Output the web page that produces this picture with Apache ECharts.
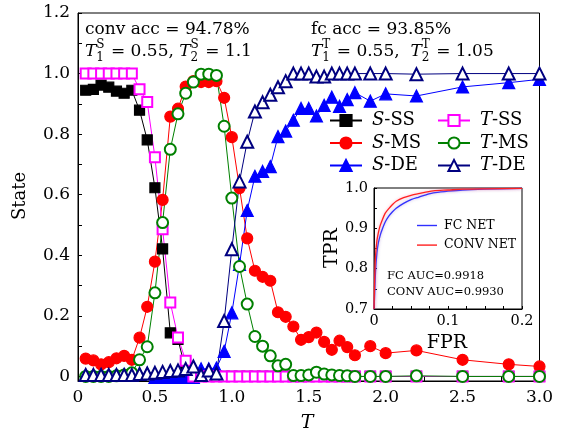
<!DOCTYPE html>
<html><head><meta charset="utf-8">
<script src="https://cdn.jsdelivr.net/npm/echarts@6/dist/echarts.min.js"></script>
<style>html,body{margin:0;padding:0;background:#fff}#c{width:561px;height:436px}</style>
</head><body><div id="c"></div>
<script>
// ---------- data ----------
const T = [0.05,0.1,0.15,0.2,0.25,0.3,0.35,0.4,0.45,0.5,0.55,0.6,0.65,0.7,0.75,0.8,0.85,0.9,0.95,1.0,1.05,1.1,1.15,1.2,1.25,1.3,1.35,1.4,1.45,1.5,1.55,1.6,1.65,1.7,1.75,1.8,1.9,2.0,2.2,2.5,2.8,3.0];
const S_SS = [0.945,0.948,0.962,0.955,0.942,0.935,0.945,0.879,0.781,0.623,0.421,0.144,0.122,0.022,0,0,0,0,0,0,0,0,0,0,0,0,0,0,0,0,0,0,0,0,0,0,0,0,0,0,0,0];
const S_MS = [0.059,0.053,0.04,0.047,0.06,0.068,0.055,0.128,0.23,0.379,0.583,0.858,0.884,0.957,0.975,0.972,0.972,0.975,0.92,0.79,0.622,0.456,0.349,0.329,0.316,0.212,0.197,0.165,0.121,0.13,0.145,0.114,0.088,0.118,0.097,0.07,0.1,0.077,0.086,0.055,0.04,0.033];
const S_DE = [0.005,0.005,0.005,0.005,0.005,0.005,0.005,0.008,0.01,-0.003,-0.003,-0.003,-0.003,-0.003,-0.003,0.025,0.025,0.028,0.083,0.21,0.37,0.548,0.661,0.677,0.693,0.792,0.81,0.846,0.885,0.885,0.86,0.895,0.922,0.892,0.914,0.937,0.909,0.933,0.926,0.956,0.97,0.981];
const T_SS = [1,1,1,1,1,1,1,0.948,0.906,0.724,0.486,0.244,0.129,0.052,0,0,0,0,0,0,0,0,0,0,0,0,0,0,0,0,0,0,0,0,0,0,0,0,0,0,0,0];
const T_MS = [0,0,0,0,0.002,0.005,0.012,0.055,0.098,0.276,0.508,0.75,0.867,0.935,0.972,0.998,0.998,0.994,0.826,0.589,0.363,0.239,0.132,0.1,0.068,0.035,0.04,0.003,0.003,0.005,0.014,0.008,0.005,0.003,0.002,0,0,0,0.002,0,0,0];
const T_DE = [0.005,0.005,0.005,0.005,0.005,0.005,0.005,0.008,0.01,0.012,0.015,0.018,0.02,0.025,0.033,0.005,0.02,0.01,0.183,0.42,0.644,0.775,0.875,0.905,0.93,0.955,0.975,1.0,1.0,1.0,0.99,0.99,1.0,1.0,1.0,1.0,1.0,1.0,0.998,1.0,1.0,1.0];
const xTickLabels = [0,0.5,1.0,1.5,2.0,2.5,3.0];
const yTickLabels = [0,0.2,0.4,0.6,0.8,1.0,1.2];
const yMinorTicks = [0,0.1,0.2,0.3,0.4,0.5,0.6,0.7,0.8,0.9,1.0,1.1,1.2];
// inset ROC
const rocFPR  = [0,0.001,0.002,0.004,0.006,0.008,0.01,0.015,0.02,0.025,0.03,0.04,0.05,0.06,0.08,0.1,0.12,0.15,0.2];
const rocCONV = [0.70,0.78,0.83,0.87,0.89,0.905,0.915,0.937,0.949,0.959,0.967,0.976,0.982,0.986,0.993,0.995,0.997,0.998,0.999];
const rocFC   = [0.70,0.74,0.79,0.84,0.865,0.88,0.892,0.915,0.93,0.941,0.95,0.962,0.971,0.977,0.988,0.992,0.995,0.997,0.999];
const insetXLabels = [0,0.1,0.2];
const insetYLabels = [0.7,0.8,0.9,1.0];

// ---------- helpers ----------
const FONT = '"DejaVu Serif", serif';
const ctx = document.createElement('canvas').getContext('2d');
function tw(t, size, it){ ctx.font = (it?'italic ':'') + size + 'px ' + FONT; return ctx.measureText(t).width; }
function txt(x, y, t, size, it, extra){
  return Object.assign({type:'text', x:x, y:y, z:20, silent:true,
    style:{text:t, font:(it?'italic ':'')+size+'px '+FONT, fill:'#000', textAlign:'left', textVerticalAlign:'middle', verticalAlign:'middle'}}, extra||{});
}
function mathText(x, y, parts, size){
  const out = []; let cx = x; const ss = Math.round(size*0.7);
  parts.forEach(function(p){
    if (p.sub !== undefined){
      out.push(txt(cx, y+size*0.32, p.sub, ss, false));
      if (p.sup) out.push(txt(cx, y-size*0.40, p.sup, ss, false));
      cx += Math.max(tw(p.sub, ss), p.sup ? tw(p.sup, ss) : 0) + 1;
    } else {
      out.push(txt(cx, y, p.t, size, p.it));
      cx += tw(p.t, size, p.it);
    }
  });
  return out;
}
const pairs = (xs, ys) => xs.map((x,i)=>[x, ys[i]]);
const isIn = (arr, v) => arr.some(a => Math.abs(a-v) < 1e-6);

function mainSeries(name, data, color, symbol, size){
  return {name:name, type:'line', data:pairs(T, data), xAxisIndex:0, yAxisIndex:0,
    symbol:symbol, symbolSize:size, clip:false,
    lineStyle:{color:color, width:1}, itemStyle:{color:color, borderColor:color, borderWidth:1.2},
    emphasis:{disabled:true}, animation:false};
}

const legendText = {
  fontFamily: FONT, fontSize: 18, color:'#000', lineHeight:14,
  rich: { i:{fontStyle:'italic', fontFamily:FONT, fontSize:18, padding:[0,0,0,5], lineHeight:14},
          n:{fontFamily:FONT, fontSize:18, lineHeight:14} }
};
const legendFmt = n => '{i|' + n[0] + '}{n|' + n.slice(1) + '}';

const chart = echarts.init(document.getElementById('c'), null, {renderer:'canvas'});
const option = {
  animation:false,
  backgroundColor:'#fff',
  grid:[
    {left:78, right:21.5, top:13, bottom:55, show:true, borderColor:'#000', borderWidth:1, backgroundColor:'transparent'},
    {left:374, top:188, width:148, height:121, show:true, borderColor:'#000', borderWidth:1, backgroundColor:'#fff', z:5}
  ],
  xAxis:[
    {type:'value', gridIndex:0, min:0, max:3, interval:0.25,
      axisLine:{show:true, onZero:false, lineStyle:{color:'#000', width:1}},
      axisTick:{show:true, inside:true, length:4, lineStyle:{color:'#000'}},
      axisLabel:{color:'#000', fontFamily:FONT, fontSize:17, margin:8,
        formatter: v => isIn(xTickLabels, v) ? (v===0 ? '0' : v.toFixed(1)) : ''},
      splitLine:{show:false}},
    {type:'value', gridIndex:1, min:0, max:0.2, interval:0.025,
      axisLine:{show:true, onZero:false, lineStyle:{color:'#000', width:1}},
      axisTick:{show:true, inside:true, length:3, lineStyle:{color:'#000'}},
      axisLabel:{color:'#000', fontFamily:FONT, fontSize:14.5, margin:5,
        formatter: v => isIn(insetXLabels, v) ? (v===0 ? '0' : v.toFixed(1)) : ''},
      splitLine:{show:false}, z:6}
  ],
  yAxis:[
    {type:'value', gridIndex:0, min:-0.015, max:1.2,
      axisLine:{show:true, onZero:false, lineStyle:{color:'#000', width:1}},
      axisTick:{show:true, inside:true, length:4, customValues:yMinorTicks, lineStyle:{color:'#000'}},
      axisLabel:{color:'#000', fontFamily:FONT, fontSize:17, margin:8, customValues:yTickLabels,
        formatter: v => v===0 ? '0' : v.toFixed(1)},
      splitLine:{show:false}},
    {type:'value', gridIndex:1, min:0.7, max:1.0, interval:0.05,
      axisLine:{show:true, onZero:false, lineStyle:{color:'#000', width:1}},
      axisTick:{show:true, inside:true, length:3, lineStyle:{color:'#000'}},
      axisLabel:{color:'#000', fontFamily:FONT, fontSize:14.5, margin:6,
        formatter: v => isIn(insetYLabels, v) ? v.toFixed(1) : ''},
      splitLine:{show:false}, z:6}
  ],
  legend:[
    {orient:'vertical', left:329, top:111.5, itemWidth:32, itemHeight:14, itemGap:4.5, padding:0,
      data:['S-SS','S-MS','S-DE'], formatter:legendFmt, textStyle:legendText, selectedMode:false},
    {orient:'vertical', left:437, top:111.5, itemWidth:32, itemHeight:14, itemGap:4.5, padding:0,
      data:['T-SS','T-MS','T-DE'], formatter:legendFmt, textStyle:legendText, selectedMode:false},
    {orient:'vertical', left:417, top:219, itemWidth:20, itemHeight:1.4, itemGap:6.6, padding:0,
      icon:'rect', data:['FC NET','CONV NET'], selectedMode:false, z:10,
      textStyle:{fontFamily:FONT, fontSize:12.5, color:'#000', padding:[0,0,0,2]}}
  ],
  series:[
    mainSeries('S-SS', S_SS, '#000000', 'rect', 10),
    mainSeries('S-MS', S_MS, '#ff0000', 'circle', 11),
    mainSeries('S-DE', S_DE, '#0000ff', 'triangle', 12),
    mainSeries('T-SS', T_SS, '#ff00ff', 'emptyRect', 10),
    mainSeries('T-MS', T_MS, '#008000', 'emptyCircle', 11),
    mainSeries('T-DE', T_DE, '#000080', 'emptyTriangle', 12),
    {name:'FC NET', type:'line', xAxisIndex:1, yAxisIndex:1, data:pairs(rocFPR, rocFC), symbol:'none', smooth:0.3, z:8,
      lineStyle:{color:'#3030ff', width:1.3, shadowBlur:3, shadowColor:'rgba(120,90,200,0.5)'}, itemStyle:{color:'#3030ff'}},
    {name:'CONV NET', type:'line', xAxisIndex:1, yAxisIndex:1, data:pairs(rocFPR, rocCONV), symbol:'none', smooth:0.3, z:8,
      lineStyle:{color:'#ff2020', width:1.3, shadowBlur:3, shadowColor:'rgba(255,120,160,0.6)'}, itemStyle:{color:'#ff2020'}}
  ],
  graphic:[].concat(
    [txt(85, 30, 'conv acc = 94.78%', 17, false)],
    mathText(85, 52, [{t:'T', it:true},{sub:'1', sup:'S'},{t:' = 0.55, '},{t:'T', it:true},{sub:'2', sup:'S'},{t:' = 1.1'}], 17),
    [txt(311, 30, 'fc acc = 93.85%', 17, false)],
    mathText(311, 52, [{t:'T', it:true},{sub:'1', sup:'T'},{t:' = 0.55,  '},{t:'T', it:true},{sub:'2', sup:'T'},{t:' = 1.05'}], 17),
    [txt(20, 196, 'State', 18, false, {rotation:Math.PI/2, style:{text:'State', font:'18px '+FONT, fill:'#000', textAlign:'center', textVerticalAlign:'middle', verticalAlign:'middle', align:'center'}})],
    [txt(307, 423, 'T', 19, true, {style:{text:'T', font:'italic 19px '+FONT, fill:'#000', textAlign:'center', textVerticalAlign:'middle', verticalAlign:'middle', align:'center'}})],
    [txt(332, 248, 'TPR', 19, false, {rotation:Math.PI/2, style:{text:'TPR', font:'19px '+FONT, fill:'#000', textAlign:'center', textVerticalAlign:'middle', verticalAlign:'middle', align:'center'}})],
    [txt(447, 343, 'FPR', 19, false, {style:{text:'FPR', font:'19px '+FONT, fill:'#000', textAlign:'center', textVerticalAlign:'middle', verticalAlign:'middle', align:'center'}})],
    [txt(387, 276, 'FC AUC=0.9918', 11.5, false), txt(387, 292, 'CONV AUC=0.9930', 11.5, false)]
  )
};
chart.setOption(option);
</script>
</body></html>
